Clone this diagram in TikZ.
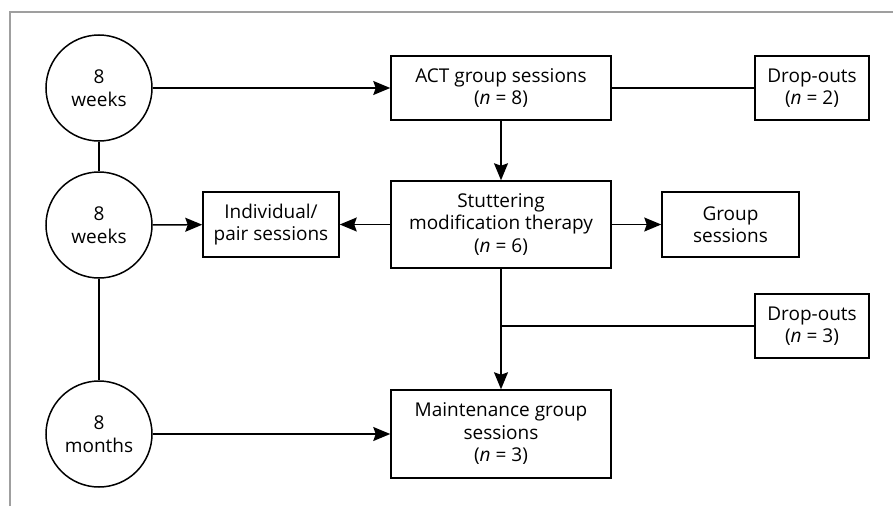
\documentclass[tikz,border=0pt]{standalone}
\usepackage{fontspec}
\setmainfont{Open Sans}
\usetikzlibrary{arrows.meta}

\begin{document}
\begin{tikzpicture}[x=1pt,y=-1pt,line width=1.5pt,
  >={Stealth[length=17pt,width=14pt,inset=2.5pt]},
  period/.style={draw,circle,minimum size=106pt,inner sep=0pt,align=center,
    font=\fontsize{19}{22.5}\selectfont},
  stage/.style={draw,rectangle,inner sep=0pt,align=center,
    font=\fontsize{19}{22.5}\selectfont}]
  \useasboundingbox (0,0) rectangle (893,506);
  % frame
  \draw[gray!75,line width=1.1pt] (10,506) -- (10,12) -- (893,12);

  % time periods
  \node[period] (wk1) at (99,88) {8\\weeks};
  \node[period] (wk2) at (99,225) {8\\weeks};
  \node[period] (mo8) at (99,434) {8\\months};

  % stages
  \node[stage,minimum width=220pt,minimum height=64pt] (act) at (501,88) {ACT group sessions\\(\textit{n} = 8)};
  \node[stage,minimum width=114pt,minimum height=64pt] (out1) at (812,88) {Drop-outs\\(\textit{n} = 2)};
  \node[stage,minimum width=220pt,minimum height=87pt] (smt) at (501,224.5) {Stuttering\\modification therapy\\(\textit{n} = 6)};
  \node[stage,minimum width=136pt,minimum height=65pt] (ind) at (271,224.5) {Individual/\\pair sessions};
  \node[stage,minimum width=137pt,minimum height=65pt] (grp) at (730.5,224.5) {Group\\sessions};
  \node[stage,minimum width=114pt,minimum height=64pt] (out2) at (812,326) {Drop-outs\\(\textit{n} = 3)};
  \node[stage,minimum width=220pt,minimum height=88pt] (mnt) at (501,434) {Maintenance group\\sessions\\(\textit{n} = 3)};

  % connectors
  \draw (wk1) -- (wk2);
  \draw (wk2) -- (mo8);
  \draw[->] (wk1) -- (act);
  \draw[->] (wk2) -- (ind);
  \draw[->] (mo8) -- (mnt);
  \draw (act) -- (out1);
  \draw[->] (act) -- (smt);
  \draw[->] (smt) -- (ind);
  \draw[->] (smt) -- (grp);
  \draw[->] (smt) -- (mnt);
  \coordinate (jn) at (smt.south |- out2.west);
  \draw (out2.west) -- (jn);
\end{tikzpicture}
\end{document}
